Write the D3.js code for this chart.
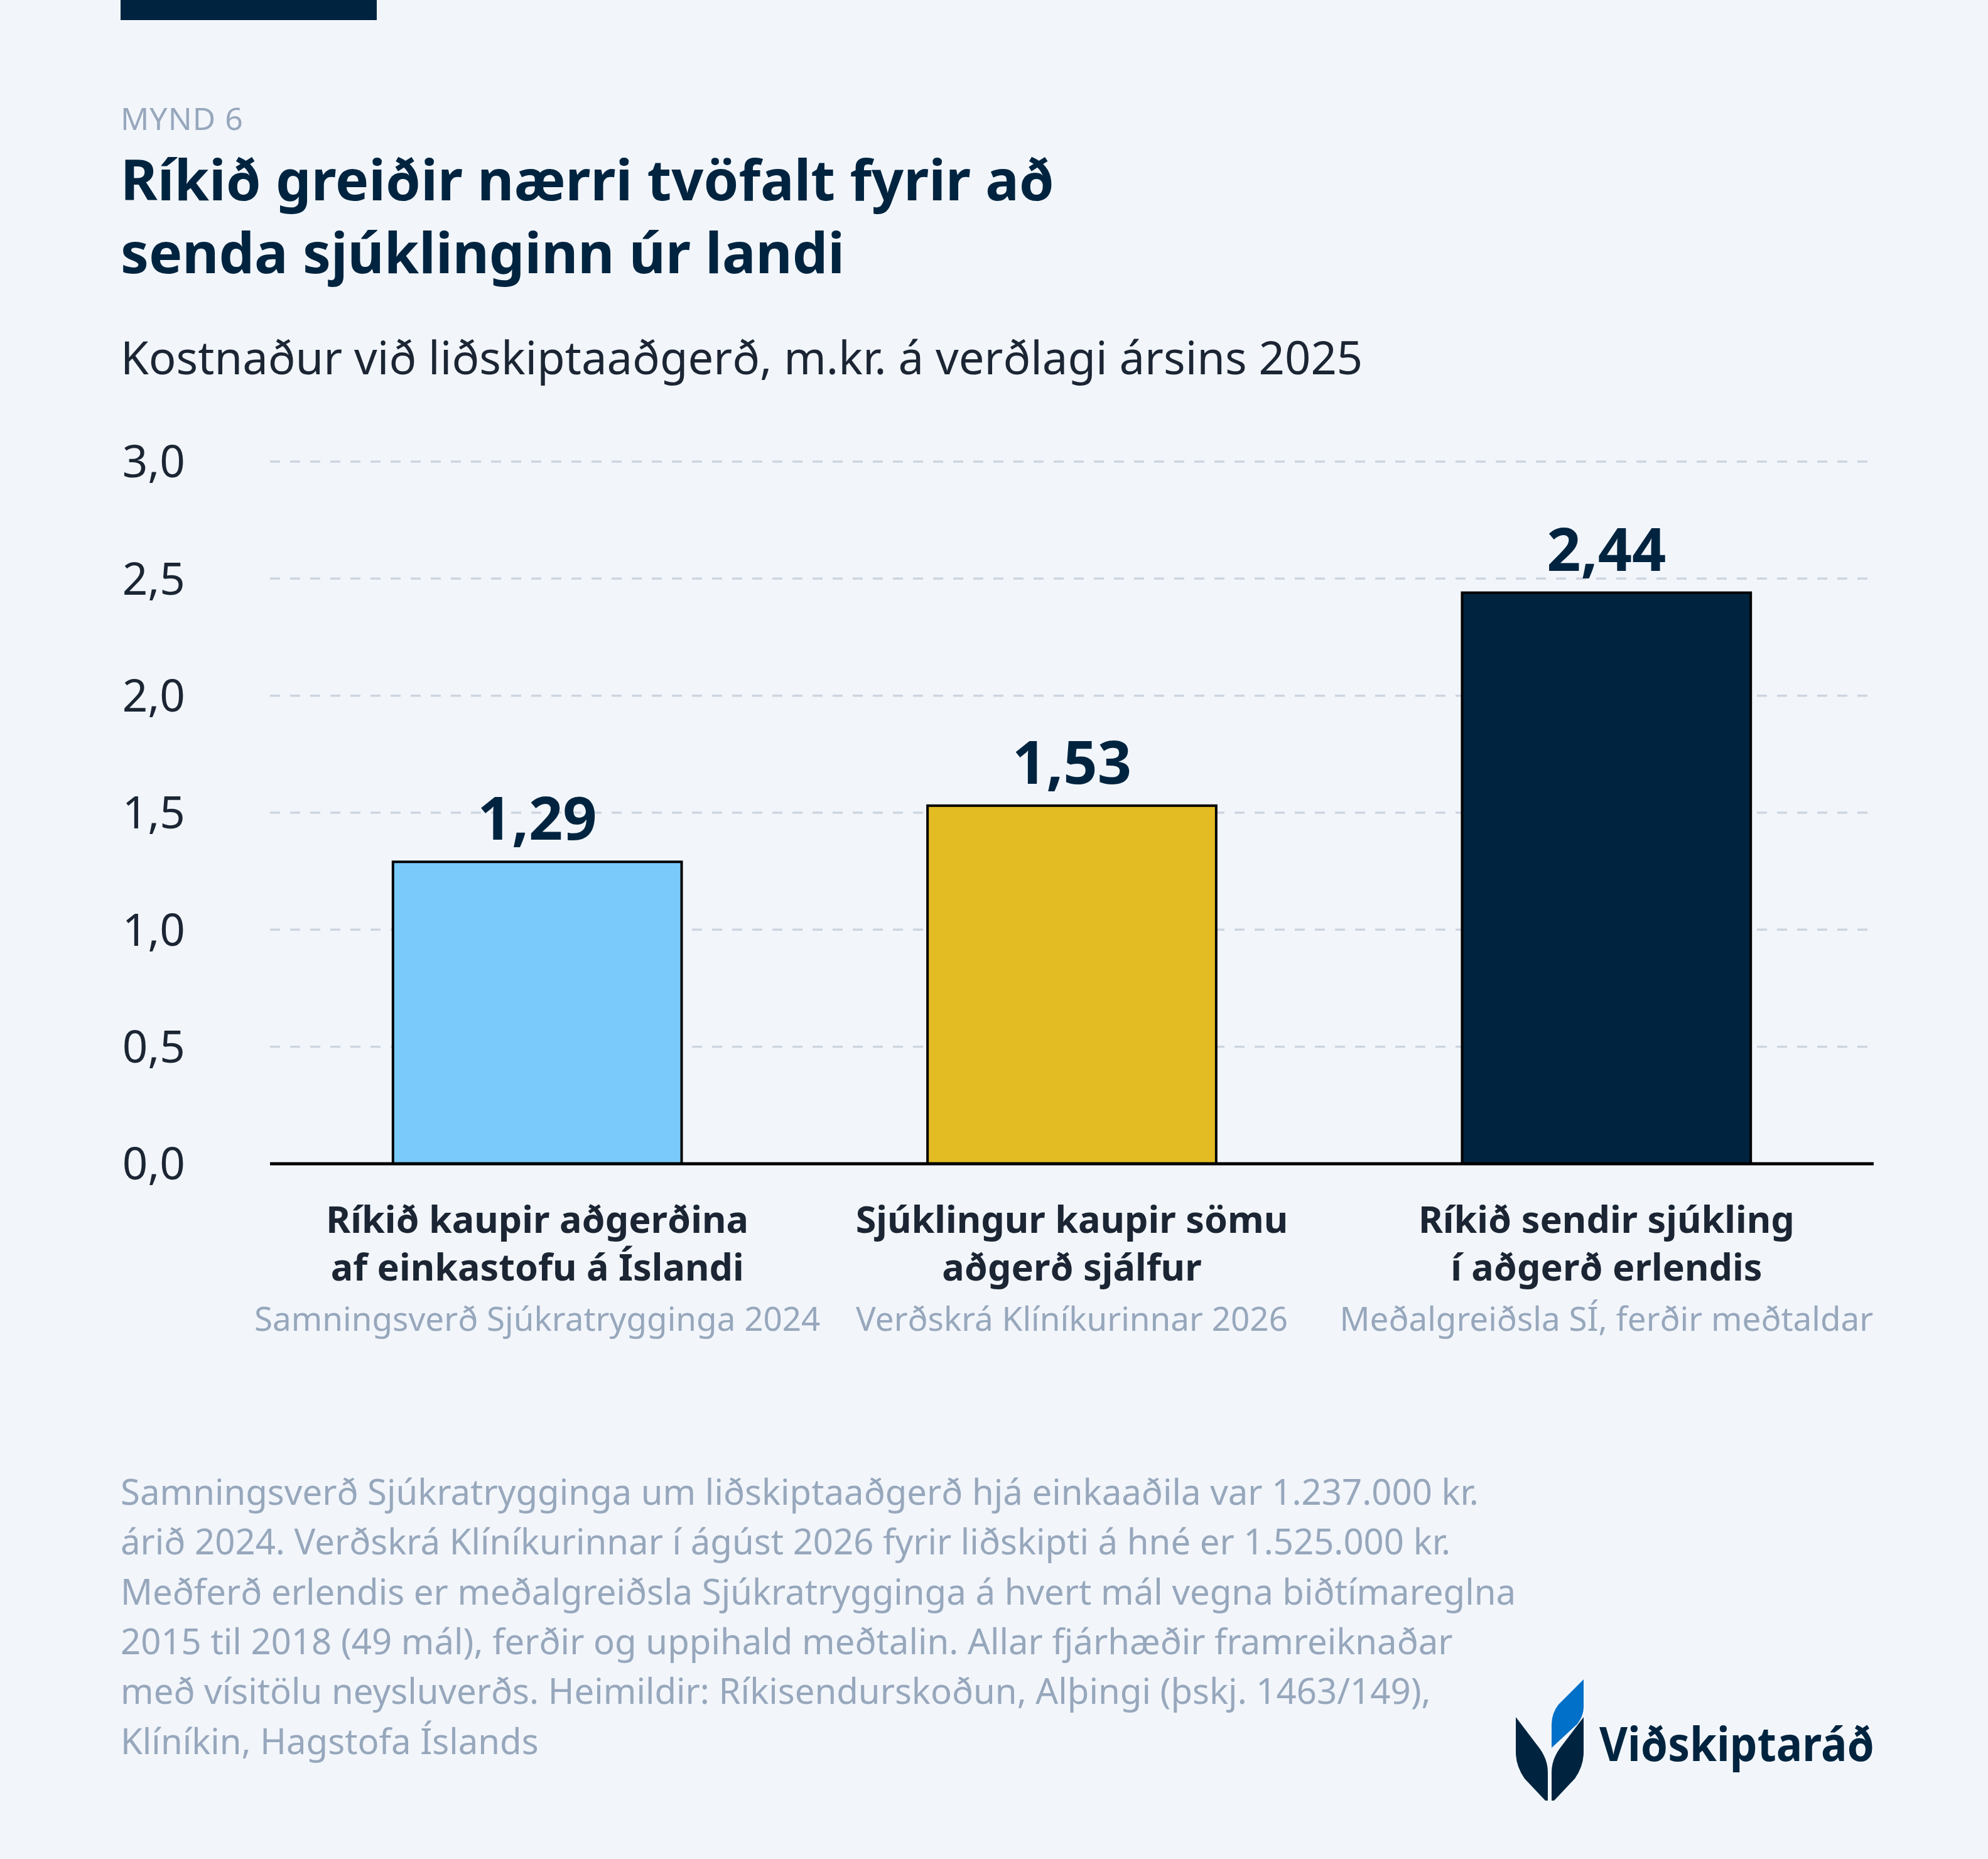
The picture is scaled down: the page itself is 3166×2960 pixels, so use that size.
<!DOCTYPE html>
<html>
<head>
<meta charset="utf-8">
<script src="https://cdn.jsdelivr.net/npm/d3@7"></script>
<style>
  html, body { margin: 0; padding: 0; background: #F2F6FB; }
  svg text { font-family: "Noto Sans", sans-serif; }
</style>
</head>
<body>
<div id="chart"></div>
<script>
// data
const categories = ["Ríkið kaupir aðgerðina|af einkastofu á Íslandi",
                    "Sjúklingur kaupir sömu|aðgerð sjálfur",
                    "Ríkið sendir sjúkling|í aðgerð erlendis"];
const sources = ["Samningsverð Sjúkratrygginga 2024",
                 "Verðskrá Klíníkurinnar 2026",
                 "Meðalgreiðsla SÍ, ferðir meðtaldar"];
const values = [1.29, 1.53, 2.44];
const barColors = ["#7ACBFC", "#E2BC22", "#00243F"];
const yTicks = [0, 0.5, 1, 1.5, 2, 2.5, 3];
const footnote = [
  "Samningsverð Sjúkratrygginga um liðskiptaaðgerð hjá einkaaðila var 1.237.000 kr.",
  "árið 2024. Verðskrá Klíníkurinnar í ágúst 2026 fyrir liðskipti á hné er 1.525.000 kr.",
  "Meðferð erlendis er meðalgreiðsla Sjúkratrygginga á hvert mál vegna biðtímareglna",
  "2015 til 2018 (49 mál), ferðir og uppihald meðtalin. Allar fjárhæðir framreiknaðar",
  "með vísitölu neysluverðs. Heimildir: Ríkisendurskoðun, Alþingi (þskj. 1463/149),",
  "Klíníkin, Hagstofa Íslands"
];

const W = 3166, H = 2960;
const navy = "#00243F", dark = "#1B2533", grey = "#97A7BC";

const svg = d3.select("#chart").append("svg")
    .attr("width", W).attr("height", H)
    .style("display", "block");

svg.append("rect").attr("width", W).attr("height", H).attr("fill", "#F2F6FB");

// header
svg.append("rect").attr("x", 192).attr("y", 0).attr("width", 408).attr("height", 32).attr("fill", navy);

svg.append("text").attr("x", 192).attr("y", 207)
    .attr("font-size", 50).attr("fill", grey).attr("letter-spacing", 1)
    .text("MYND 6");

svg.append("text").attr("x", 192).attr("y", 319)
    .attr("font-size", 89.5).attr("font-weight", 700).attr("fill", navy)
    .text("Ríkið greiðir nærri tvöfalt fyrir að");
svg.append("text").attr("x", 192).attr("y", 435)
    .attr("font-size", 89.5).attr("font-weight", 700).attr("fill", navy)
    .text("senda sjúklinginn úr landi");

svg.append("text").attr("x", 192).attr("y", 596)
    .attr("font-size", 72.4).attr("fill", dark)
    .text("Kostnaður við liðskiptaaðgerð, m.kr. á verðlagi ársins 2025");

// scales
const x = d3.scaleBand().domain(categories).range([430, 2984])
    .paddingInner(0.46).paddingOuter(0.23);
const y = d3.scaleLinear().domain([0, 3]).range([1853, 735]);

const is = d3.formatLocale({decimal: ",", thousands: ".", grouping: [3], currency: ["", " kr."]});
const fmt1 = is.format(".1f"), fmt2 = is.format(".2f");

// grid
svg.append("g").selectAll("line")
    .data(yTicks.filter(d => d > 0))
    .join("line")
    .attr("x1", 430).attr("x2", 2976)
    .attr("y1", d => y(d)).attr("y2", d => y(d))
    .attr("stroke", "#CDD5E0").attr("stroke-width", 3.5)
    .attr("stroke-dasharray", "16 16");

// y axis
const yAxis = svg.append("g")
    .attr("transform", "translate(295,0)")
    .call(d3.axisLeft(y).tickValues(yTicks).tickFormat(fmt1).tickSize(0).tickPadding(0));
yAxis.select(".domain").remove();
yAxis.selectAll("text")
    .attr("font-family", "Noto Sans, sans-serif")
    .attr("font-size", 71).attr("fill", dark).attr("dy", "0.35em");

// bars
svg.append("g").selectAll("rect")
    .data(values)
    .join("rect")
    .attr("x", (d, i) => x(categories[i]))
    .attr("y", d => y(d))
    .attr("width", x.bandwidth())
    .attr("height", d => y(0) - y(d))
    .attr("fill", (d, i) => barColors[i])
    .attr("stroke", "#000").attr("stroke-width", 4);

// baseline
svg.append("line").attr("x1", 430).attr("x2", 2984)
    .attr("y1", y(0)).attr("y2", y(0))
    .attr("stroke", "#000").attr("stroke-width", 5);

// value labels
svg.append("g").selectAll("text")
    .data(values)
    .join("text")
    .attr("x", (d, i) => x(categories[i]) + x.bandwidth() / 2)
    .attr("y", d => y(d) - 35)
    .attr("text-anchor", "middle")
    .attr("font-size", 95).attr("font-weight", 700).attr("fill", navy)
    .text(d => fmt2(d));

// category labels
const cat = svg.append("g").selectAll("g")
    .data(categories)
    .join("g")
    .attr("transform", d => `translate(${x(d) + x.bandwidth() / 2},0)`);
cat.each(function(d, i) {
  const g = d3.select(this);
  d.split("|").forEach((line, j) => {
    g.append("text").attr("y", 1963 + j * 76)
      .attr("text-anchor", "middle")
      .attr("font-size", 59.3).attr("font-weight", 700).attr("fill", dark)
      .text(line);
  });
  g.append("text").attr("y", 2119)
    .attr("text-anchor", "middle")
    .attr("font-size", 53).attr("fill", grey)
    .text(sources[i]);
});

// footnote
svg.append("g").selectAll("text")
    .data(footnote)
    .join("text")
    .attr("x", 192)
    .attr("y", (d, i) => 2396 + i * 79.3)
    .attr("font-size", 56.3).attr("fill", grey)
    .text(d => d);

// logo
const logo = svg.append("g");
logo.append("path").attr("fill", navy)
    .attr("d", "M2414,2734 L2452,2784 Q2465,2802 2465,2822 L2465,2867 L2461,2867 L2428,2832 Q2414,2812 2414,2790 Z");
logo.append("path").attr("fill", navy)
    .attr("d", "M2522,2734 L2484,2784 Q2471,2802 2471,2822 L2471,2867 L2475,2867 L2508,2832 Q2522,2812 2522,2790 Z");
logo.append("path").attr("fill", "#0070C8")
    .attr("d", "M2522,2674 L2522,2718 Q2522,2732 2512,2745 L2471,2783 L2471,2746 Q2471,2728 2482,2714 Z");
logo.append("text").attr("x", 2547).attr("y", 2804)
    .attr("font-family", "Roboto, sans-serif")
    .attr("font-size", 76).attr("font-weight", 700).attr("fill", navy)
    .attr("textLength", 438).attr("lengthAdjust", "spacingAndGlyphs")
    .text("Viðskiptaráð");
</script>
</body>
</html>
